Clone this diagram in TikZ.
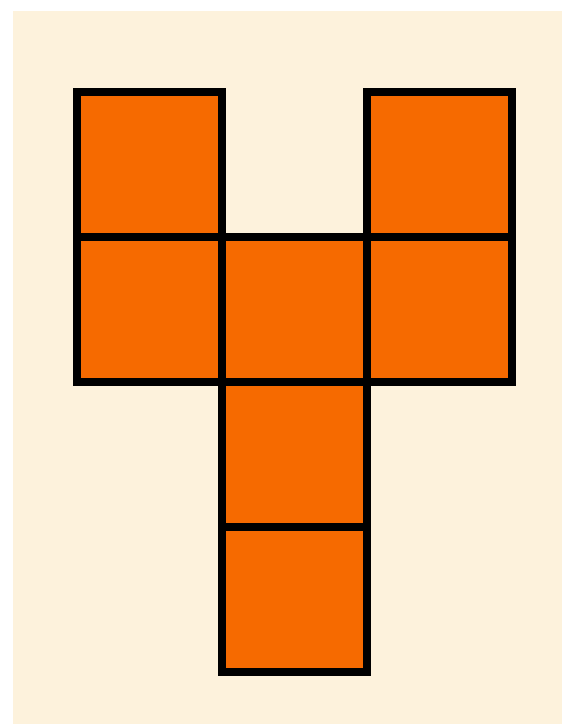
\documentclass[tikz,border=0pt]{standalone}
\definecolor{cream}{RGB}{253,242,220}
\definecolor{orng}{RGB}{246,106,0}
\tikzset{cell/.style={draw=black,fill=orng,line width=8pt,line join=miter}}
\begin{document}
\begin{tikzpicture}[x=1pt,y=-1pt]
\useasboundingbox (0,0) rectangle (562,724);
\fill[white] (0,0) rectangle (562,724);
\fill[cream] (13,11) rectangle (562,724);
\def\s{145}
\foreach \c/\r in {0/0,2/0,0/1,1/1,2/1,1/2,1/3}{
  \draw[cell] ({77+\c*\s},{92+\r*\s}) rectangle ++(\s,\s);
}
\end{tikzpicture}
\end{document}
